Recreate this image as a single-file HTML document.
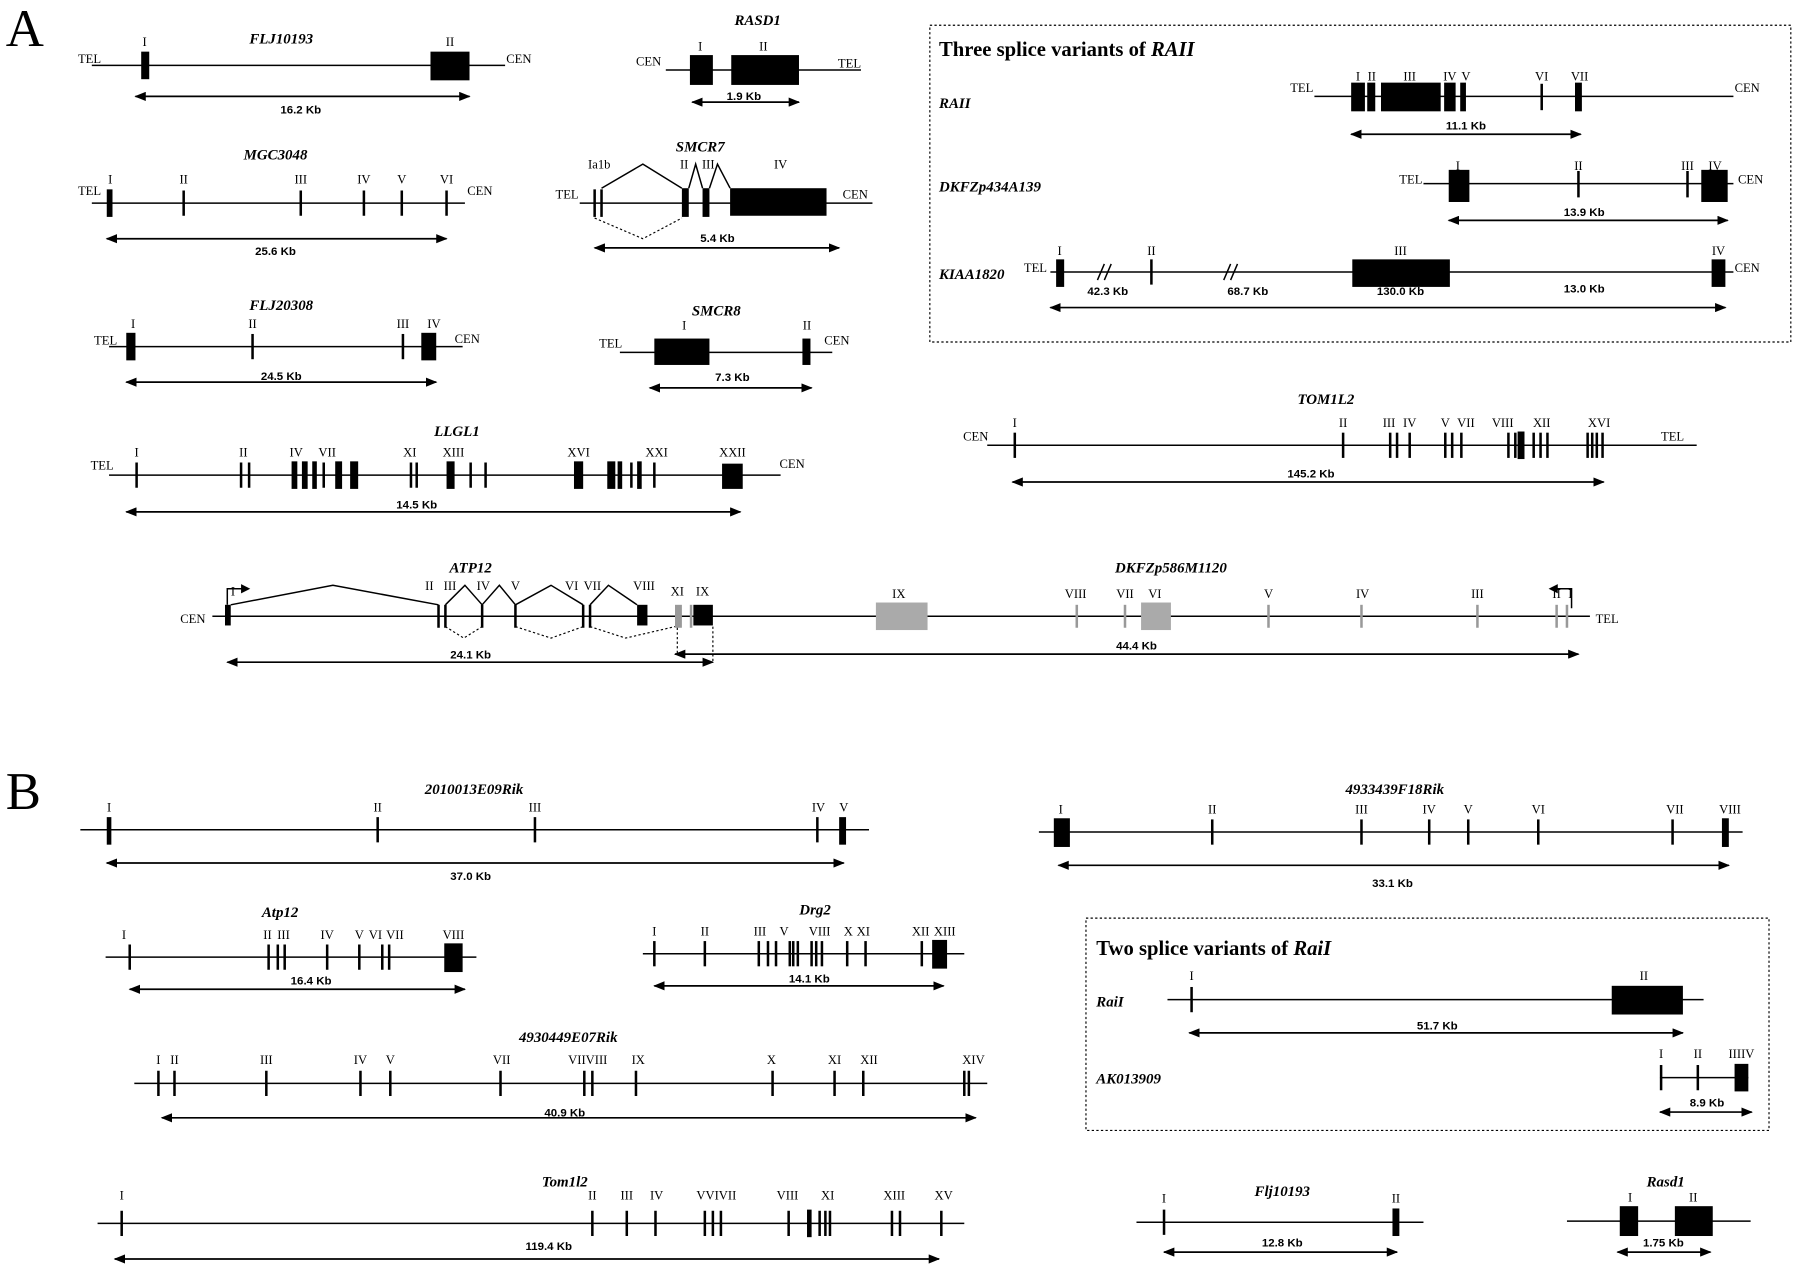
<!DOCTYPE html>
<html><head><meta charset="utf-8"><style>
html,body{margin:0;padding:0;background:#fff}
svg{display:block}
text{font-family:"Liberation Sans",sans-serif;font-size:10px;fill:#000}
.t{font-family:"Liberation Serif",serif;font-weight:bold;font-style:italic;font-size:13px}
.r{font-family:"Liberation Serif",serif;font-size:11px}
.kb{font-size:10px;font-weight:bold}
.h{font-family:"Liberation Serif",serif;font-weight:bold;font-size:18px}
.big{font-family:"Liberation Serif",serif;font-size:46px}
.l{stroke:#000;stroke-width:1.3;fill:none}
.k{stroke:#000;stroke-width:2.2}
.g{stroke:#999;stroke-width:2.2}
.a{stroke:#000;stroke-width:1.5;marker-start:url(#ms);marker-end:url(#me)}
.d{stroke:#000;stroke-width:1;stroke-dasharray:2,2;fill:none}
</style></head><body>
<svg width="1800" height="1267" viewBox="0 0 1568 1104" preserveAspectRatio="none" xmlns="http://www.w3.org/2000/svg">
<defs>
<marker id="me" markerWidth="10" markerHeight="8" refX="9" refY="4" orient="auto" markerUnits="userSpaceOnUse"><path d="M0,0L10,4L0,8z"/></marker>
<marker id="ms" markerWidth="10" markerHeight="8" refX="1" refY="4" orient="auto" markerUnits="userSpaceOnUse"><path d="M10,0L0,4L10,8z"/></marker>
</defs>
<g text-anchor="middle">
<text x="5" y="40" class="big" text-anchor="start">A</text>
<text x="5" y="705" class="big" text-anchor="start">B</text>

<!-- FLJ10193 -->
<text x="245" y="38" class="t">FLJ10193</text>
<line x1="80" y1="57" x2="440" y2="57" class="l"/>
<text x="78" y="55" class="r">TEL</text><text x="452" y="55" class="r">CEN</text>
<rect x="123" y="45" width="7" height="24"/><rect x="375" y="45" width="34" height="25"/>
<text x="126" y="40" class="r">I</text><text x="392" y="40" class="r">II</text>
<line x1="118" y1="84" x2="409" y2="84" class="a"/><text x="262" y="99" class="kb">16.2 Kb</text>

<!-- RASD1 -->
<text x="660" y="22" class="t">RASD1</text>
<line x1="580" y1="61" x2="750" y2="61" class="l"/>
<text x="565" y="57" class="r">CEN</text><text x="740" y="59" class="r">TEL</text>
<rect x="601" y="48" width="20" height="26"/><rect x="637" y="48" width="59" height="26"/>
<text x="610" y="44" class="r">I</text><text x="665" y="44" class="r">II</text>
<line x1="603" y1="89" x2="696" y2="89" class="a"/><text x="648" y="87" class="kb">1.9 Kb</text>

<!-- RAII box -->
<rect x="810" y="22" width="750" height="276" fill="none" stroke="#000" stroke-width="1" stroke-dasharray="2,2"/>
<text x="818" y="49" class="h" text-anchor="start">Three splice variants of <tspan font-style="italic">RAII</tspan></text>
<text x="818" y="94" class="t" text-anchor="start">RAII</text>
<line x1="1145" y1="84" x2="1510" y2="84" class="l"/>
<text x="1134" y="80" class="r">TEL</text><text x="1522" y="80" class="r">CEN</text>
<rect x="1177" y="72" width="12" height="25"/><rect x="1191" y="72" width="7" height="25"/><rect x="1203" y="72" width="52" height="25"/><rect x="1258" y="72" width="10" height="25"/><rect x="1272" y="72" width="5" height="25"/>
<line x1="1343" y1="73" x2="1343" y2="96" class="k"/><rect x="1372" y="72" width="6" height="25"/>
<text x="1183" y="70" class="r">I</text><text x="1195" y="70" class="r">II</text><text x="1228" y="70" class="r">III</text><text x="1263" y="70" class="r">IV</text><text x="1277" y="70" class="r">V</text><text x="1343" y="70" class="r">VI</text><text x="1376" y="70" class="r">VII</text>
<line x1="1177" y1="117" x2="1377" y2="117" class="a"/><text x="1277" y="113" class="kb">11.1 Kb</text>

<text x="818" y="167" class="t" text-anchor="start">DKFZp434A139</text>
<line x1="1240" y1="160" x2="1510" y2="160" class="l"/>
<text x="1229" y="160" class="r">TEL</text><text x="1525" y="160" class="r">CEN</text>
<rect x="1262" y="148" width="18" height="28"/><line x1="1375" y1="149" x2="1375" y2="172" class="k"/><line x1="1470" y1="149" x2="1470" y2="172" class="k"/><rect x="1482" y="148" width="23" height="28"/>
<text x="1270" y="148" class="r">I</text><text x="1375" y="148" class="r">II</text><text x="1470" y="148" class="r">III</text><text x="1494" y="148" class="r">IV</text>
<line x1="1262" y1="192" x2="1505" y2="192" class="a"/><text x="1380" y="188" class="kb">13.9 Kb</text>

<text x="818" y="243" class="t" text-anchor="start">KIAA1820</text>
<line x1="915" y1="237" x2="1510" y2="237" class="l"/>
<text x="902" y="237" class="r">TEL</text><text x="1522" y="237" class="r">CEN</text>
<rect x="920" y="226" width="7" height="24"/><line x1="1003" y1="226" x2="1003" y2="248" class="k"/><rect x="1178" y="226" width="85" height="24"/><rect x="1491" y="226" width="12" height="24"/>
<path d="M956,244l6,-14M962,244l6,-14M1066,244l6,-14M1072,244l6,-14" stroke="#000" stroke-width="1.3"/>
<text x="923" y="222" class="r">I</text><text x="1003" y="222" class="r">II</text><text x="1220" y="222" class="r">III</text><text x="1497" y="222" class="r">IV</text>
<text x="965" y="257" class="kb">42.3  Kb</text><text x="1087" y="257" class="kb">68.7  Kb</text><text x="1220" y="257" class="kb">130.0  Kb</text><text x="1380" y="255" class="kb">13.0 Kb</text>
<line x1="915" y1="268" x2="1503" y2="268" class="a"/>

<!-- MGC3048 -->
<text x="240" y="139" class="t">MGC3048</text>
<line x1="80" y1="177" x2="405" y2="177" class="l"/>
<text x="78" y="170" class="r">TEL</text><text x="418" y="170" class="r">CEN</text>
<rect x="93" y="165" width="5" height="24"/>
<line x1="160" y1="166" x2="160" y2="188" class="k"/><line x1="262" y1="166" x2="262" y2="188" class="k"/><line x1="317" y1="166" x2="317" y2="188" class="k"/><line x1="350" y1="166" x2="350" y2="188" class="k"/><line x1="389" y1="166" x2="389" y2="188" class="k"/>
<text x="96" y="160" class="r">I</text><text x="160" y="160" class="r">II</text><text x="262" y="160" class="r">III</text><text x="317" y="160" class="r">IV</text><text x="350" y="160" class="r">V</text><text x="389" y="160" class="r">VI</text>
<line x1="93" y1="208" x2="389" y2="208" class="a"/><text x="240" y="222" class="kb">25.6  Kb</text>

<!-- SMCR7 -->
<text x="610" y="132" class="t">SMCR7</text>
<line x1="505" y1="177" x2="760" y2="177" class="l"/>
<text x="494" y="173" class="r">TEL</text><text x="745" y="173" class="r">CEN</text>
<line x1="518" y1="165" x2="518" y2="189" class="k"/><line x1="524" y1="165" x2="524" y2="189" class="k"/>
<rect x="594" y="164" width="6" height="25"/><rect x="612" y="164" width="6" height="25"/><rect x="636" y="164" width="84" height="24"/>
<path d="M524,164L560,143L594,164M600,164L606,143L612,164M618,164L625,143L636,164" class="l"/>
<path d="M518,190L560,208L594,190" class="d"/>
<text x="522" y="147" class="r">Ia1b</text><text x="596" y="147" class="r">II</text><text x="617" y="147" class="r">III</text><text x="680" y="147" class="r">IV</text>
<line x1="518" y1="216" x2="731" y2="216" class="a"/><text x="625" y="211" class="kb">5.4 Kb</text>

<!-- FLJ20308 -->
<text x="245" y="270" class="t">FLJ20308</text>
<line x1="95" y1="302" x2="403" y2="302" class="l"/>
<text x="92" y="300" class="r">TEL</text><text x="407" y="299" class="r">CEN</text>
<rect x="110" y="290" width="8" height="24"/><line x1="220" y1="291" x2="220" y2="313" class="k"/><line x1="351" y1="291" x2="351" y2="313" class="k"/><rect x="367" y="290" width="13" height="24"/>
<text x="116" y="286" class="r">I</text><text x="220" y="286" class="r">II</text><text x="351" y="286" class="r">III</text><text x="378" y="286" class="r">IV</text>
<line x1="110" y1="333" x2="380" y2="333" class="a"/><text x="245" y="331" class="kb">24.5 Kb</text>

<!-- SMCR8 -->
<text x="624" y="275" class="t">SMCR8</text>
<line x1="540" y1="307" x2="725" y2="307" class="l"/>
<text x="532" y="303" class="r">TEL</text><text x="729" y="300" class="r">CEN</text>
<rect x="570" y="295" width="48" height="23"/><rect x="699" y="295" width="7" height="23"/>
<text x="596" y="287" class="r">I</text><text x="703" y="287" class="r">II</text>
<line x1="566" y1="338" x2="707" y2="338" class="a"/><text x="638" y="332" class="kb">7.3 Kb</text>

<!-- LLGL1 -->
<text x="398" y="380" class="t">LLGL1</text>
<line x1="95" y1="414" x2="680" y2="414" class="l"/>
<text x="89" y="409" class="r">TEL</text><text x="690" y="408" class="r">CEN</text>
<g class="k">
<line x1="119" y1="403" x2="119" y2="425"/><line x1="210" y1="403" x2="210" y2="425"/><line x1="217" y1="403" x2="217" y2="425"/><line x1="282" y1="403" x2="282" y2="425"/><line x1="358" y1="403" x2="358" y2="425"/><line x1="363" y1="403" x2="363" y2="425"/><line x1="410" y1="403" x2="410" y2="425"/><line x1="423" y1="403" x2="423" y2="425"/><line x1="550" y1="403" x2="550" y2="425"/><line x1="570" y1="403" x2="570" y2="425"/></g>
<rect x="254" y="402" width="5" height="24"/><rect x="263" y="402" width="5" height="24"/><rect x="272" y="402" width="4" height="24"/><rect x="292" y="402" width="6" height="24"/><rect x="305" y="402" width="7" height="24"/><rect x="389" y="402" width="7" height="24"/><rect x="500" y="402" width="8" height="24"/><rect x="529" y="402" width="7" height="24"/><rect x="538" y="402" width="4" height="24"/><rect x="555" y="402" width="4" height="24"/><rect x="629" y="404" width="18" height="22"/>
<text x="119" y="398" class="r">I</text><text x="212" y="398" class="r">II</text><text x="258" y="398" class="r">IV</text><text x="285" y="398" class="r">VII</text><text x="357" y="398" class="r">XI</text><text x="395" y="398" class="r">XIII</text><text x="504" y="398" class="r">XVI</text><text x="572" y="398" class="r">XXI</text><text x="638" y="398" class="r">XXII</text>
<line x1="110" y1="446" x2="645" y2="446" class="a"/><text x="363" y="443" class="kb">14.5 Kb</text>

<!-- TOM1L2 -->
<text x="1155" y="352" class="t">TOM1L2</text>
<line x1="860" y1="388" x2="1478" y2="388" class="l"/>
<text x="850" y="384" class="r">CEN</text><text x="1457" y="384" class="r">TEL</text>
<g class="k">
<line x1="884" y1="377" x2="884" y2="399"/><line x1="1170" y1="377" x2="1170" y2="399"/><line x1="1211" y1="377" x2="1211" y2="399"/><line x1="1217" y1="377" x2="1217" y2="399"/><line x1="1228" y1="377" x2="1228" y2="399"/><line x1="1259" y1="377" x2="1259" y2="399"/><line x1="1265" y1="377" x2="1265" y2="399"/><line x1="1273" y1="377" x2="1273" y2="399"/><line x1="1314" y1="377" x2="1314" y2="399"/><line x1="1320" y1="377" x2="1320" y2="399"/><line x1="1336" y1="377" x2="1336" y2="399"/><line x1="1342" y1="377" x2="1342" y2="399"/><line x1="1348" y1="377" x2="1348" y2="399"/><line x1="1383" y1="377" x2="1383" y2="399"/><line x1="1387" y1="377" x2="1387" y2="399"/><line x1="1391" y1="377" x2="1391" y2="399"/><line x1="1396" y1="377" x2="1396" y2="399"/></g>
<rect x="1322" y="376" width="6" height="24"/>
<text x="884" y="372" class="r">I</text><text x="1170" y="372" class="r">II</text><text x="1210" y="372" class="r">III</text><text x="1228" y="372" class="r">IV</text><text x="1259" y="372" class="r">V</text><text x="1277" y="372" class="r">VII</text><text x="1309" y="372" class="r">VIII</text><text x="1343" y="372" class="r">XII</text><text x="1393" y="372" class="r">XVI</text>
<line x1="882" y1="420" x2="1397" y2="420" class="a"/><text x="1142" y="416" class="kb">145.2 Kb</text>

<!-- ATP12 / DKFZp586M1120 -->
<text x="410" y="499" class="t">ATP12</text><text x="1020" y="499" class="t">DKFZp586M1120</text>
<line x1="185" y1="537" x2="1385" y2="537" class="l"/>
<text x="168" y="543" class="r">CEN</text><text x="1400" y="543" class="r">TEL</text>
<path d="M198,527V513H212" class="l"/><path d="M218,513L210,509L210,517z"/>
<path d="M1369,530V513H1355" class="l"/><path d="M1349,513L1357,509L1357,517z"/>
<rect x="196" y="527" width="5" height="18"/>
<g class="k"><line x1="382" y1="527" x2="382" y2="547"/><line x1="388" y1="527" x2="388" y2="547"/><line x1="420" y1="527" x2="420" y2="547"/><line x1="449" y1="527" x2="449" y2="547"/><line x1="508" y1="527" x2="508" y2="547"/><line x1="514" y1="527" x2="514" y2="547"/></g>
<rect x="555" y="527" width="9" height="18"/>
<rect x="588" y="527" width="6" height="20" fill="#999"/><line x1="602" y1="527" x2="602" y2="547" class="g"/><rect x="604" y="527" width="17" height="18"/>
<path d="M201,527L290,510L382,527M388,527L405,510L420,527M420,527L435,510L449,527M449,527L480,510L508,527M514,527L530,510L555,527" class="l"/>
<path d="M388,546L404,556L420,546M449,546L480,556L508,546M514,546L545,556L588,546" class="d"/>
<rect x="763" y="525" width="45" height="24" fill="#aaa"/><rect x="994" y="525" width="26" height="24" fill="#aaa"/>
<g class="g"><line x1="938" y1="527" x2="938" y2="547"/><line x1="980" y1="527" x2="980" y2="547"/><line x1="1105" y1="527" x2="1105" y2="547"/><line x1="1186" y1="527" x2="1186" y2="547"/><line x1="1287" y1="527" x2="1287" y2="547"/><line x1="1356" y1="527" x2="1356" y2="547"/><line x1="1365" y1="527" x2="1365" y2="547"/></g>
<text x="203" y="519" class="r">I</text><text x="374" y="514" class="r">II</text><text x="392" y="514" class="r">III</text><text x="421" y="514" class="r">IV</text><text x="449" y="514" class="r">V</text><text x="498" y="514" class="r">VI</text><text x="516" y="514" class="r">VII</text><text x="561" y="514" class="r">VIII</text><text x="590" y="519" class="r">XI</text><text x="612" y="519" class="r">IX</text>
<text x="783" y="521" class="r">IX</text><text x="937" y="521" class="r">VIII</text><text x="980" y="521" class="r">VII</text><text x="1006" y="521" class="r">VI</text><text x="1105" y="521" class="r">V</text><text x="1187" y="521" class="r">IV</text><text x="1287" y="521" class="r">III</text><text x="1356" y="521" class="r">II</text><text x="1368" y="521" class="r">I</text>
<line x1="621" y1="546" x2="621" y2="577" class="d"/><line x1="590" y1="547" x2="590" y2="570" class="d"/>
<line x1="198" y1="577" x2="621" y2="577" class="a"/><text x="410" y="574" class="kb">24.1 Kb</text>
<line x1="588" y1="570" x2="1375" y2="570" class="a"/><text x="990" y="566" class="kb">44.4 Kb</text>

<!-- 2010013E09Rik -->
<text x="413" y="692" class="t">2010013E09Rik</text>
<line x1="70" y1="723" x2="757" y2="723" class="l"/>
<rect x="93" y="712" width="4" height="24"/><g class="k"><line x1="329" y1="712" x2="329" y2="734"/><line x1="466" y1="712" x2="466" y2="734"/><line x1="712" y1="712" x2="712" y2="734"/></g><rect x="731" y="712" width="6" height="24"/>
<text x="95" y="707" class="r">I</text><text x="329" y="707" class="r">II</text><text x="466" y="707" class="r">III</text><text x="713" y="707" class="r">IV</text><text x="735" y="707" class="r">V</text>
<line x1="93" y1="752" x2="735" y2="752" class="a"/><text x="410" y="767" class="kb">37.0 Kb</text>

<!-- 4933439F18Rik -->
<text x="1215" y="692" class="t">4933439F18Rik</text>
<line x1="905" y1="725" x2="1518" y2="725" class="l"/>
<rect x="918" y="713" width="14" height="25"/><g class="k"><line x1="1056" y1="714" x2="1056" y2="736"/><line x1="1186" y1="714" x2="1186" y2="736"/><line x1="1245" y1="714" x2="1245" y2="736"/><line x1="1279" y1="714" x2="1279" y2="736"/><line x1="1340" y1="714" x2="1340" y2="736"/><line x1="1457" y1="714" x2="1457" y2="736"/></g><rect x="1500" y="713" width="6" height="25"/>
<text x="924" y="709" class="r">I</text><text x="1056" y="709" class="r">II</text><text x="1186" y="709" class="r">III</text><text x="1245" y="709" class="r">IV</text><text x="1279" y="709" class="r">V</text><text x="1340" y="709" class="r">VI</text><text x="1459" y="709" class="r">VII</text><text x="1507" y="709" class="r">VIII</text>
<line x1="922" y1="754" x2="1506" y2="754" class="a"/><text x="1213" y="773" class="kb">33.1 Kb</text>

<!-- Atp12 -->
<text x="244" y="799" class="t">Atp12</text>
<line x1="92" y1="834" x2="415" y2="834" class="l"/>
<g class="k"><line x1="113" y1="823" x2="113" y2="845"/><line x1="234" y1="823" x2="234" y2="845"/><line x1="242" y1="823" x2="242" y2="845"/><line x1="248" y1="823" x2="248" y2="845"/><line x1="285" y1="823" x2="285" y2="845"/><line x1="313" y1="823" x2="313" y2="845"/><line x1="333" y1="823" x2="333" y2="845"/><line x1="339" y1="823" x2="339" y2="845"/></g><rect x="387" y="822" width="16" height="25"/>
<text x="108" y="818" class="r">I</text><text x="233" y="818" class="r">II</text><text x="247" y="818" class="r">III</text><text x="285" y="818" class="r">IV</text><text x="313" y="818" class="r">V</text><text x="327" y="818" class="r">VI</text><text x="344" y="818" class="r">VII</text><text x="395" y="818" class="r" font-size="9">VIII</text>
<line x1="113" y1="862" x2="405" y2="862" class="a"/><text x="271" y="858" class="kb">16.4 Kb</text>

<!-- Drg2 -->
<text x="710" y="797" class="t">Drg2</text>
<line x1="560" y1="831" x2="840" y2="831" class="l"/>
<g class="k"><line x1="570" y1="820" x2="570" y2="842"/><line x1="614" y1="820" x2="614" y2="842"/><line x1="661" y1="820" x2="661" y2="842"/><line x1="669" y1="820" x2="669" y2="842"/><line x1="676" y1="820" x2="676" y2="842"/><line x1="688" y1="820" x2="688" y2="842"/><line x1="691" y1="820" x2="691" y2="842"/><line x1="695" y1="820" x2="695" y2="842"/><line x1="707" y1="820" x2="707" y2="842"/><line x1="711" y1="820" x2="711" y2="842"/><line x1="716" y1="820" x2="716" y2="842"/><line x1="738" y1="820" x2="738" y2="842"/><line x1="754" y1="820" x2="754" y2="842"/><line x1="803" y1="820" x2="803" y2="842"/></g><rect x="812" y="819" width="13" height="25"/>
<text x="570" y="815" class="r">I</text><text x="614" y="815" class="r">II</text><text x="662" y="815" class="r">III</text><text x="683" y="815" class="r">V</text><text x="714" y="815" class="r">VIII</text><text x="739" y="815" class="r">X</text><text x="752" y="815" class="r">XI</text><text x="802" y="815" class="r">XII</text><text x="823" y="815" class="r">XIII</text>
<line x1="570" y1="859" x2="822" y2="859" class="a"/><text x="705" y="856" class="kb">14.1 Kb</text>

<!-- RaiI box -->
<rect x="946" y="800" width="595" height="185" fill="none" stroke="#000" stroke-width="1" stroke-dasharray="2,2"/>
<text x="955" y="832" class="h" text-anchor="start">Two splice variants of <tspan font-style="italic">RaiI</tspan></text>
<text x="955" y="877" class="t" text-anchor="start">RaiI</text>
<line x1="1017" y1="871" x2="1484" y2="871" class="l"/>
<line x1="1038" y1="860" x2="1038" y2="882" class="k"/><rect x="1404" y="859" width="62" height="25"/>
<text x="1038" y="854" class="r">I</text><text x="1432" y="854" class="r">II</text>
<line x1="1036" y1="900" x2="1466" y2="900" class="a"/><text x="1252" y="897" class="kb">51.7 Kb</text>
<text x="955" y="944" class="t" text-anchor="start">AK013909</text>
<line x1="1446" y1="939" x2="1523" y2="939" class="l"/>
<line x1="1447" y1="928" x2="1447" y2="950" class="k"/><line x1="1479" y1="928" x2="1479" y2="950" class="k"/><rect x="1511" y="927" width="12" height="24"/>
<text x="1447" y="922" class="r" font-size="9">I</text><text x="1479" y="922" class="r" font-size="9">II</text><text x="1517" y="922" class="r" font-size="9">IIIIV</text>
<line x1="1446" y1="969" x2="1526" y2="969" class="a"/><text x="1487" y="964" class="kb">8.9 Kb</text>

<!-- 4930449E07Rik -->
<text x="495" y="908" class="t">4930449E07Rik</text>
<line x1="117" y1="944" x2="860" y2="944" class="l"/>
<g class="k"><line x1="138" y1="933" x2="138" y2="955"/><line x1="152" y1="933" x2="152" y2="955"/><line x1="232" y1="933" x2="232" y2="955"/><line x1="314" y1="933" x2="314" y2="955"/><line x1="340" y1="933" x2="340" y2="955"/><line x1="436" y1="933" x2="436" y2="955"/><line x1="509" y1="933" x2="509" y2="955"/><line x1="516" y1="933" x2="516" y2="955"/><line x1="554" y1="933" x2="554" y2="955"/><line x1="673" y1="933" x2="673" y2="955"/><line x1="727" y1="933" x2="727" y2="955"/><line x1="752" y1="933" x2="752" y2="955"/><line x1="840" y1="933" x2="840" y2="955"/><line x1="844" y1="933" x2="844" y2="955"/></g>
<text x="138" y="927" class="r">I</text><text x="152" y="927" class="r">II</text><text x="232" y="927" class="r">III</text><text x="314" y="927" class="r">IV</text><text x="340" y="927" class="r">V</text><text x="437" y="927" class="r">VII</text><text x="512" y="927" class="r">VIIVIII</text><text x="556" y="927" class="r">IX</text><text x="672" y="927" class="r">X</text><text x="727" y="927" class="r">XI</text><text x="757" y="927" class="r">XII</text><text x="848" y="927" class="r">XIV</text>
<line x1="141" y1="974" x2="850" y2="974" class="a"/><text x="492" y="973" class="kb">40.9 Kb</text>

<!-- Tom1l2 -->
<text x="492" y="1034" class="t">Tom1l2</text>
<line x1="85" y1="1066" x2="840" y2="1066" class="l"/>
<g class="k"><line x1="106" y1="1055" x2="106" y2="1077"/><line x1="516" y1="1055" x2="516" y2="1077"/><line x1="546" y1="1055" x2="546" y2="1077"/><line x1="571" y1="1055" x2="571" y2="1077"/><line x1="614" y1="1055" x2="614" y2="1077"/><line x1="621" y1="1055" x2="621" y2="1077"/><line x1="628" y1="1055" x2="628" y2="1077"/><line x1="687" y1="1055" x2="687" y2="1077"/><line x1="714" y1="1055" x2="714" y2="1077"/><line x1="719" y1="1055" x2="719" y2="1077"/><line x1="723" y1="1055" x2="723" y2="1077"/><line x1="777" y1="1055" x2="777" y2="1077"/><line x1="784" y1="1055" x2="784" y2="1077"/><line x1="820" y1="1055" x2="820" y2="1077"/></g><rect x="703" y="1054" width="4" height="24"/>
<text x="106" y="1045" class="r">I</text><text x="516" y="1045" class="r">II</text><text x="546" y="1045" class="r">III</text><text x="572" y="1045" class="r">IV</text><text x="624" y="1045" class="r">VVIVII</text><text x="686" y="1045" class="r">VIII</text><text x="721" y="1045" class="r">XI</text><text x="779" y="1045" class="r">XIII</text><text x="822" y="1045" class="r">XV</text>
<line x1="100" y1="1097" x2="818" y2="1097" class="a"/><text x="478" y="1089" class="kb">119.4 Kb</text>

<!-- Flj10193 -->
<text x="1117" y="1042" class="t">Flj10193</text>
<line x1="990" y1="1065" x2="1240" y2="1065" class="l"/>
<line x1="1014" y1="1054" x2="1014" y2="1076" class="k"/><rect x="1213" y="1053" width="6" height="24"/>
<text x="1014" y="1048" class="r">I</text><text x="1216" y="1048" class="r">II</text>
<line x1="1014" y1="1091" x2="1217" y2="1091" class="a"/><text x="1117" y="1086" class="kb">12.8 Kb</text>

<!-- Rasd1 -->
<text x="1451" y="1034" class="t">Rasd1</text>
<line x1="1365" y1="1064" x2="1525" y2="1064" class="l"/>
<rect x="1411" y="1051" width="16" height="26"/><rect x="1459" y="1051" width="33" height="26"/>
<text x="1420" y="1047" class="r">I</text><text x="1475" y="1047" class="r">II</text>
<line x1="1409" y1="1091" x2="1490" y2="1091" class="a"/><text x="1449" y="1086" class="kb">1.75 Kb</text>
</g>
</svg>
</body></html>
